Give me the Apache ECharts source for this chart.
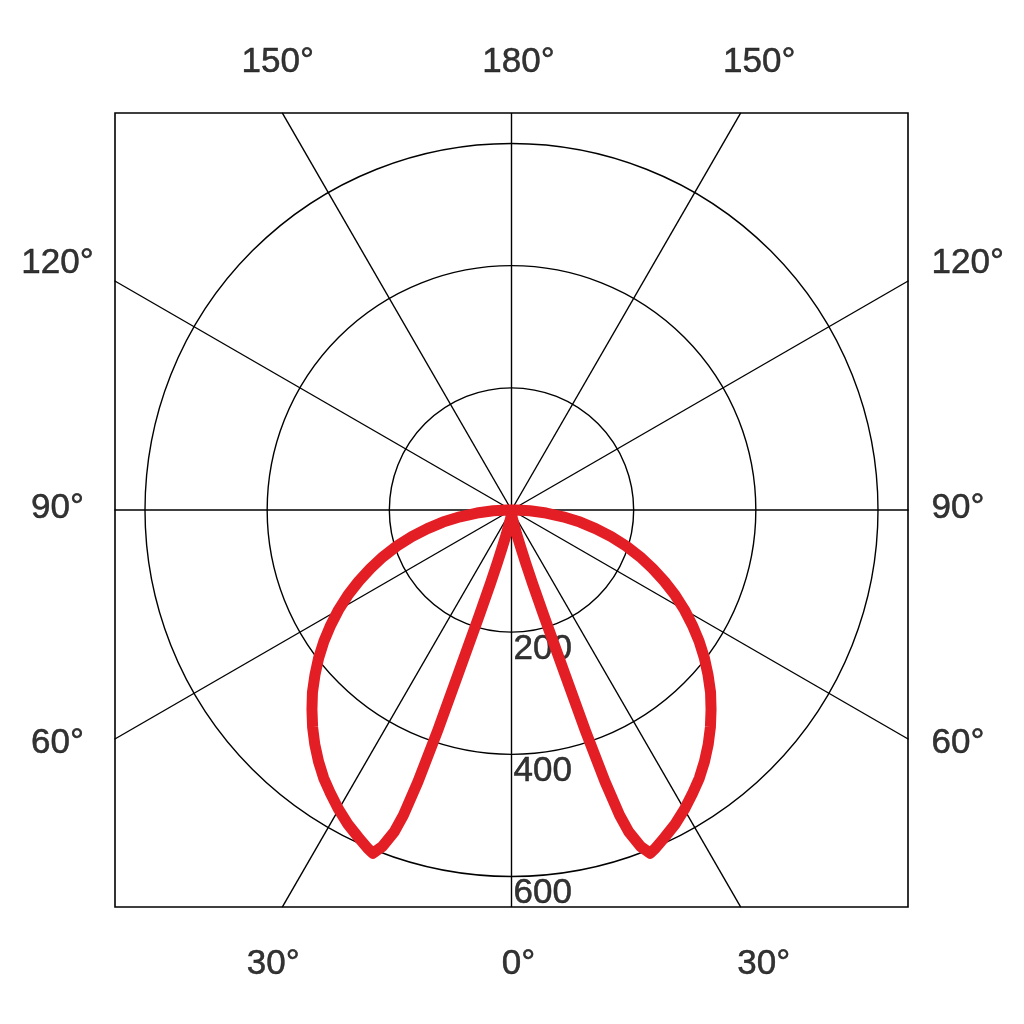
<!DOCTYPE html>
<html><head><meta charset="utf-8">
<script src="https://cdn.jsdelivr.net/npm/echarts@6/dist/echarts.min.js"></script>
<style>html,body{margin:0;padding:0;background:#fff}#c{width:1024px;height:1024px}</style>
</head><body><div id="c"></div>
<script>
// Luminous intensity, C0 half-plane (the curve is symmetric about 0°)
const curveAngles = [0, 5, 10, 12, 14, 15, 16, 17, 18, 18.5, 19, 19.5, 20, 21, 22, 23, 25, 27.5, 30, 32.5, 35, 37.5, 40, 42.5, 45, 47.5, 50, 52.5, 55, 57.5, 60, 62.5, 65, 67.5, 70, 72.5, 75, 77.5, 80, 82.5, 85, 87.5, 90, 95, 100, 120, 150, 180];
const curveIntensity = [8, 12, 25, 40, 65, 90, 125, 180, 280, 380, 470, 530, 560, 590, 606, 602, 592, 580, 566, 551, 536, 519, 501, 482, 462, 442, 420, 398, 375, 351, 327, 302, 276, 250, 224, 197, 169, 141, 114, 85, 57, 30, 8, 0, 0, 0, 0, 0];

const angleTicks = [0, 30, 60, 90, 120, 150, 180, 210, 240, 270, 300, 330];
const angleTickLabels = ['0°', '30°', '60°', '90°', '120°', '150°', '180°', '150°', '120°', '90°', '60°', '30°'];
const radialTicks = [200, 400, 600];
const radialTickLabels = ['200', '400', '600'];

const R_OUT = 920;       // radius axis extent (reaches the frame corners)
const BOX_HALF = 650;    // half-size of frame in data units
const CENTER = [511.5, 510];
const PX = 366.5 / 600;  // pixels per unit
const FONT = '"Liberation Sans", Arial, sans-serif';
const rad = d => d * Math.PI / 180;
function edgeR(a) {
  const s = Math.abs(Math.sin(rad(a))), c = Math.abs(Math.cos(rad(a)));
  return BOX_HALF / Math.max(s, c);
}

// full curve: C0 half then mirrored C180 half
const curve = [];
curveAngles.forEach((a, i) => curve.push([curveIntensity[i], a]));
for (let i = curveAngles.length - 2; i >= 0; i--) curve.push([curveIntensity[i], 360 - curveAngles[i]]);

const spokes = angleTicks.map(a => ({
  type: 'line', coordinateSystem: 'polar', data: [[0, a], [edgeR(a), a]],
  symbol: 'none', clip: false, silent: true, z: 2,
  lineStyle: { color: '#000', width: 1.4 }
}));

const angleLabelData = angleTicks.map((a, i) => {
  const r = edgeR(a);
  const s = Math.sin(rad(a)), c = Math.cos(rad(a));
  const dx = s * r * PX, dy = c * r * PX;
  let l;
  if (Math.abs(c) > Math.abs(s) + 1e-6) {
    l = c > 0 ? { align: 'center', offset: [7 + 0.07 * dx, 57] }
              : { align: 'center', offset: [7 + 0.05 * dx, -51] };
  } else {
    const oy = dy < -1 ? -17 : (dy > 1 ? 4 : -2);
    l = s > 0 ? { align: 'left', offset: [23, oy] }
              : { align: 'center', offset: [-57, oy] };
  }
  return { value: [r, a], label: Object.assign({ formatter: angleTickLabels[i] }, l) };
});

const radialLabelData = radialTicks.map((v, i) => ({ value: [v, 0], label: { formatter: radialTickLabels[i] } }));

const T = 'rgba(0,0,0,0)';
const textStyle = { color: '#000', fontSize: 35, fontFamily: FONT, textBorderColor: '#000', textBorderWidth: 0.5 };
const chart = echarts.init(document.getElementById('c'), null, { renderer: 'canvas' });
chart.setOption({
  animation: false,
  backgroundColor: '#fff',
  grid: { left: 115, top: 113, width: 793, height: 794, show: true, borderColor: '#000', borderWidth: 1.6, backgroundColor: 'transparent' },
  xAxis: { type: 'value', show: false, min: -BOX_HALF, max: BOX_HALF },
  yAxis: { type: 'value', show: false, min: -BOX_HALF, max: BOX_HALF },
  polar: { center: CENTER, radius: R_OUT * PX },
  angleAxis: {
    type: 'value', min: 0, max: 360, startAngle: 270, clockwise: false,
    axisLine: { show: false }, axisTick: { show: false }, axisLabel: { show: false }, splitLine: { show: false }
  },
  radiusAxis: {
    type: 'value', min: 0, max: R_OUT, interval: 200,
    axisLine: { show: false }, axisTick: { show: false }, axisLabel: { show: false },
    // circles at 0,200,400,600 shown; 800 and the extent end hidden
    splitLine: { show: true, lineStyle: { color: ['#000', '#000', '#000', '#000', T, T], width: 1.4 } }
  },
  series: [
    ...spokes,
    {
      type: 'scatter', coordinateSystem: 'polar', data: angleLabelData, clip: false, silent: true,
      symbol: 'circle', symbolSize: 1, itemStyle: { color: T }, z: 3,
      label: Object.assign({ show: true, position: 'inside', verticalAlign: 'middle' }, textStyle)
    },
    {
      type: 'scatter', coordinateSystem: 'polar', data: radialLabelData, clip: false, silent: true,
      symbol: 'circle', symbolSize: 1, itemStyle: { color: T }, z: 3,
      label: Object.assign({ show: true, position: 'inside', align: 'left', verticalAlign: 'middle', offset: [2, 17] }, textStyle)
    },
    {
      type: 'line', coordinateSystem: 'polar', data: curve, symbol: 'none', clip: false, silent: true, z: 10,
      lineStyle: { color: '#e41e25', width: 11, join: 'round', cap: 'round' }
    }
  ]
});
</script></body></html>
